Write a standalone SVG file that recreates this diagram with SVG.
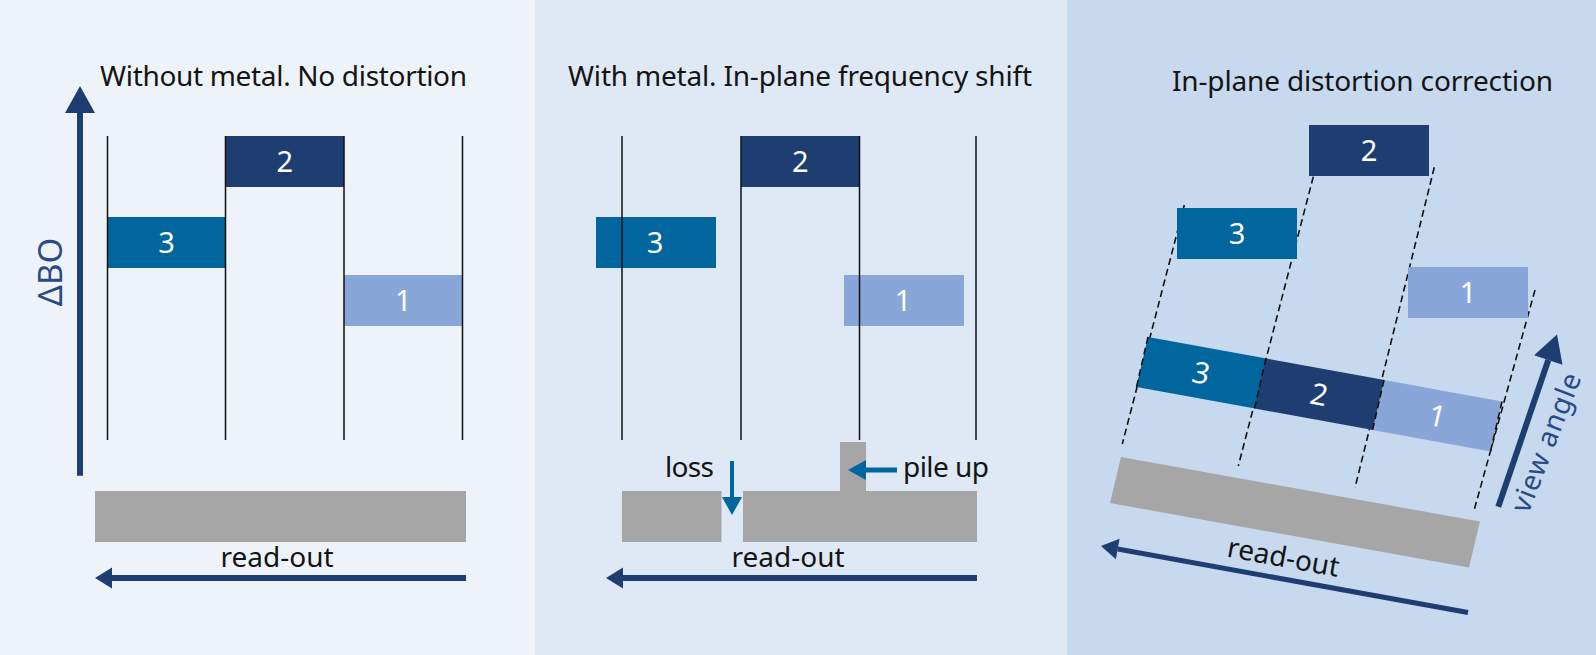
<svg xmlns="http://www.w3.org/2000/svg" width="1596" height="655" viewBox="0 0 1596 655">
<style>
.t{font-family:"Noto Sans","Open Sans",sans-serif;font-size:28px;fill:#141414}
.num{font-family:"Noto Sans","Open Sans",sans-serif;font-size:29px;fill:#ffffff;text-anchor:middle}
.ax{font-family:"Noto Sans","Open Sans",sans-serif;fill:#2a4a84}
.b2{fill:#1e3e72}.b3{fill:#00669d}.b1{fill:#88a6d7}
.gray{fill:#a6a6a6}
.vl{stroke:#111;stroke-width:1.5;fill:none}
.dl{stroke:#111;stroke-width:1.6;stroke-dasharray:7 4;fill:none}
.nav{stroke:#1e3e72;fill:none}
.blu{stroke:#00669d;fill:none}
</style>
<defs>
<marker id="hL" markerUnits="userSpaceOnUse" markerWidth="30" markerHeight="32" refX="0" refY="15" orient="auto" overflow="visible"><path d="M0,0 L27,15 L0,30 z" fill="#1e3e72"/></marker>
<marker id="hS" markerUnits="userSpaceOnUse" markerWidth="20" markerHeight="22" refX="0" refY="10.5" orient="auto" overflow="visible"><path d="M0,0 L17,10.5 L0,21 z" fill="#1e3e72"/></marker>
<marker id="hB" markerUnits="userSpaceOnUse" markerWidth="20" markerHeight="22" refX="0" refY="10" orient="auto" overflow="visible"><path d="M0,0 L18,10 L0,20 z" fill="#00669d"/></marker>
</defs>

<g id="backgrounds">
<rect x="0" y="0" width="534.5" height="655" fill="#eef3fa"/>
<rect x="534.5" y="0" width="532.5" height="655" fill="#dfe9f5"/>
<rect x="1067" y="0" width="529" height="655" fill="#c6d9ef"/>
</g>

<!-- Panel 1 -->
<g id="panel1">
<text class="t" x="100" y="86" textLength="367">Without metal. No distortion</text>
<g id="p1-block2"><rect class="b2" x="225.5" y="136" width="118.5" height="51"/><text class="num" x="284.7" y="172">2</text></g>
<g id="p1-block3"><rect class="b3" x="107.5" y="217" width="118" height="51"/><text class="num" x="166.5" y="253">3</text></g>
<g id="p1-block1"><rect class="b1" x="344" y="275" width="118.5" height="51"/><text class="num" x="403.2" y="311">1</text></g>
<g id="p1-gridlines">
<line class="vl" x1="107.5" y1="136" x2="107.5" y2="440"/>
<line class="vl" x1="225.5" y1="136" x2="225.5" y2="440"/>
<line class="vl" x1="344" y1="136" x2="344" y2="440"/>
<line class="vl" x1="462.5" y1="136" x2="462.5" y2="440"/>
</g>
<g id="p1-detector"><rect class="gray" x="95" y="491" width="371" height="51"/></g>
<text class="ax" font-size="33" transform="translate(62,272) rotate(-90)" text-anchor="middle">ΔBO</text>
<text class="t" x="277" y="567" text-anchor="middle">read-out</text>
</g>

<!-- Panel 2 -->
<g id="panel2">
<text class="t" x="568" y="86" textLength="464">With metal. In-plane frequency shift</text>
<g id="p2-block2"><rect class="b2" x="741" y="136" width="118.5" height="51"/><text class="num" x="800.2" y="172">2</text></g>
<g id="p2-block3"><rect class="b3" x="596" y="217" width="120" height="51"/><text class="num" x="655" y="253">3</text></g>
<g id="p2-block1"><rect class="b1" x="844" y="275" width="120" height="51"/><text class="num" x="903" y="311">1</text></g>
<g id="p2-gridlines">
<line class="vl" x1="622" y1="136" x2="622" y2="440"/>
<line class="vl" x1="741" y1="136" x2="741" y2="440"/>
<line class="vl" x1="859.5" y1="136" x2="859.5" y2="440"/>
<line class="vl" x1="976" y1="136" x2="976" y2="440"/>
</g>
<g id="p2-detector">
<rect class="gray" x="622" y="491" width="99.5" height="51"/>
<path class="gray" d="M743,491 H840 V442 H866 V491 H977 V542 H743 z"/>
</g>
<text class="t" x="665" y="477" textLength="49">loss</text>
<text class="t" x="903" y="477" textLength="86">pile up</text>
<text class="t" x="788" y="567" text-anchor="middle">read-out</text>
</g>

<!-- Panel 3 -->
<g id="panel3">
<text class="t" x="1172" y="91" textLength="381">In-plane distortion correction</text>
<g id="p3-projection-lines">
<line class="dl" x1="1184.3" y1="205" x2="1122.3" y2="444"/>
<line class="dl" x1="1313.3" y1="176.7" x2="1238.3" y2="466"/>
<line class="dl" x1="1434.3" y1="167.3" x2="1355" y2="487.7"/>
<line class="dl" x1="1535" y1="290" x2="1474" y2="510.7"/>
</g>
<g id="p3-block2"><rect class="b2" x="1309" y="125" width="120" height="51"/><text class="num" x="1369" y="161">2</text></g>
<g id="p3-block3"><rect class="b3" x="1177" y="208" width="120" height="51"/><text class="num" x="1237" y="244">3</text></g>
<g id="p3-block1"><rect class="b1" x="1408" y="267" width="120" height="51"/><text class="num" x="1468" y="303">1</text></g>
<g id="p3-band" transform="matrix(1,0.182,-0.23,1,1148,337)">
<rect class="b3" x="0" y="0" width="118.5" height="50"/>
<rect class="b2" x="118" y="0" width="118.5" height="50"/>
<rect class="b1" x="236" y="0" width="118" height="50"/>
<text class="num" x="59" y="35.5">3</text>
<text class="num" x="177" y="35.5">2</text>
<text class="num" x="295" y="35.5">1</text>
</g>
<g id="p3-band-lines">
<line class="dl" x1="1148" y1="337" x2="1136.5" y2="387"/>
<line class="dl" x1="1266" y1="358.5" x2="1254.5" y2="408.5"/>
<line class="dl" x1="1384" y1="380" x2="1372.5" y2="430"/>
<line class="dl" x1="1502" y1="401.5" x2="1490.5" y2="451.5"/>
</g>
<g id="p3-detector"><rect class="gray" x="0" y="0" width="359" height="46" transform="matrix(1,0.18,-0.24,1,1121,457)"/></g>
<text class="ax" font-size="28" textLength="147" text-anchor="middle" transform="translate(1555,446) rotate(-68.7)">view angle</text>
<text class="t" text-anchor="middle" transform="translate(1281.7,566.7) rotate(10.3)">read-out</text>
</g>

<g id="connectors">
<line class="nav" stroke-width="6" x1="80" y1="475.7" x2="80" y2="113" marker-end="url(#hL)"/>
<line class="nav" stroke-width="6" x1="466" y1="578" x2="112" y2="578" marker-end="url(#hS)"/>
<line class="nav" stroke-width="6" x1="977" y1="578" x2="623" y2="578" marker-end="url(#hS)"/>
<line class="blu" stroke-width="4" x1="732" y1="461" x2="732" y2="497" marker-end="url(#hB)"/>
<line class="blu" stroke-width="5" x1="897" y1="470" x2="866" y2="470" marker-end="url(#hB)"/>
<line class="nav" stroke-width="6" x1="1498.3" y1="506.7" x2="1548.3" y2="360" marker-end="url(#hL)"/>
<line class="nav" stroke-width="5" x1="1468" y1="612.5" x2="1117.7" y2="549" marker-end="url(#hS)"/>
</g>
</svg>
